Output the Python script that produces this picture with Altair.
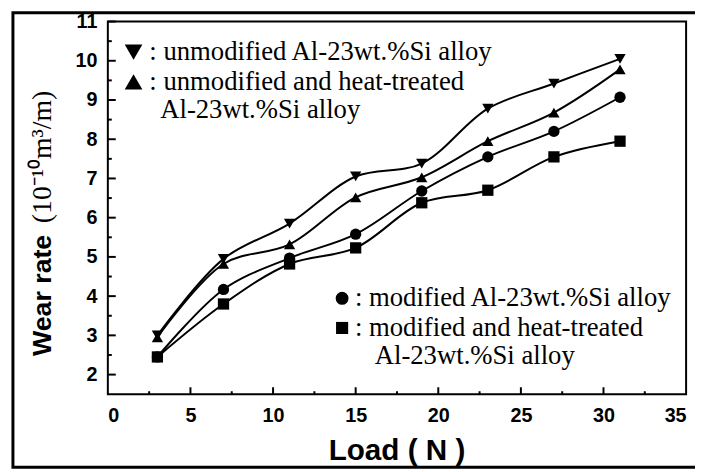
import altair as alt
import pandas as pd

# ---- data ----
loads = [3, 7, 11, 15, 19, 23, 27, 31]
unmod = [3.0, 4.95, 5.85, 7.05, 7.38, 8.78, 9.42, 10.05]
unmod_ht = [2.95, 4.82, 5.32, 6.52, 7.03, 7.95, 8.68, 9.78]
mod = [2.45, 4.17, 4.97, 5.58, 6.68, 7.55, 8.2, 9.07]
mod_ht = [2.45, 3.8, 4.82, 5.23, 6.38, 6.7, 7.55, 7.95]

series_names = ["unmod", "unmod_ht", "mod", "mod_ht"]
series_shapes = ["triangle-down", "triangle-up", "circle", "square"]
series_sizes = [130, 130, 95, 85]

x_major = [5, 10, 15, 20, 25, 30]
x_minor = [2.5, 7.5, 12.5, 17.5, 22.5, 27.5, 32.5]
y_major = [2, 3, 4, 5, 6, 7, 8, 9, 10, 11]
y_minor = [2.5, 3.5, 4.5, 5.5, 6.5, 7.5, 8.5, 9.5, 10.5]
x_labels = [0, 5, 10, 15, 20, 25, 30, 35]

rows = []
for name, vals in zip(series_names, [unmod, unmod_ht, mod, mod_ht]):
    for l, v in zip(loads, vals):
        rows.append({"series": name, "load": l, "wear": v})
df = pd.DataFrame(rows)

W, H = 585, 377
SANS = "Liberation Sans"
SERIF = "Liberation Serif"

xscale = alt.Scale(domain=[0, 35], nice=False, zero=False)
yscale = alt.Scale(domain=[1.5, 11], nice=False, zero=False)

base = alt.Chart(df)

lines = base.mark_line(color="black", strokeWidth=2, interpolate="catmull-rom").encode(
    x=alt.X("load:Q", scale=xscale,
            axis=alt.Axis(values=x_labels, ticks=False, domain=False, grid=False,
                          labelFont=SANS, labelFontWeight="bold", labelFontSize=20,
                          labelColor="black", labelPadding=12,
                          title="Load  (  N )", titleFont=SANS, titleFontWeight="bold",
                          titleFontSize=30, titleColor="black", titleY=66, titleX=292,
                          titleBaseline="alphabetic")),
    y=alt.Y("wear:Q", scale=yscale,
            axis=alt.Axis(values=y_major, ticks=False, domain=False, grid=False,
                          labelFont=SANS, labelFontWeight="bold", labelFontSize=20,
                          labelColor="black", labelPadding=11, title=None)),
    detail="series:N",
)

points = base.mark_point(filled=True, color="black", opacity=1).encode(
    x=alt.X("load:Q", scale=xscale),
    y=alt.Y("wear:Q", scale=yscale),
    shape=alt.Shape("series:N", scale=alt.Scale(domain=series_names, range=series_shapes), legend=None),
    size=alt.Size("series:N", scale=alt.Scale(domain=series_names, range=series_sizes), legend=None),
)

# inward ticks
ymaj = alt.Chart(pd.DataFrame({"v": y_major})).mark_rule(color="black", strokeWidth=2).encode(
    y=alt.Y("v:Q", scale=yscale), x=alt.value(0), x2=alt.value(8))
ymin = alt.Chart(pd.DataFrame({"v": y_minor})).mark_rule(color="black", strokeWidth=2).encode(
    y=alt.Y("v:Q", scale=yscale), x=alt.value(0), x2=alt.value(4))
xmaj = alt.Chart(pd.DataFrame({"v": x_major})).mark_rule(color="black", strokeWidth=2).encode(
    x=alt.X("v:Q", scale=xscale), y=alt.value(H), y2=alt.value(H - 7))
xmin = alt.Chart(pd.DataFrame({"v": x_minor})).mark_rule(color="black", strokeWidth=2).encode(
    x=alt.X("v:Q", scale=xscale), y=alt.value(H), y2=alt.value(H - 3))

one = pd.DataFrame({"a": [0]})

frame = alt.Chart(one).mark_rect(fillOpacity=0, stroke="black", strokeWidth=3).encode(
    x=alt.value(-96), x2=alt.value(600), y=alt.value(-9), y2=alt.value(451))


def txt(s, x, y, font=SERIF, size=27, weight="normal", angle=0, align="left"):
    return alt.Chart(one).mark_text(text=s, font=font, fontSize=size, fontWeight=weight,
                                    angle=angle, align=align, baseline="middle",
                                    color="black").encode(x=alt.value(x), y=alt.value(y))


def sym(shape, x, y, size):
    return alt.Chart(one).mark_point(shape=shape, filled=True, color="black", opacity=1,
                                     size=size).encode(x=alt.value(x), y=alt.value(y))


annots = [
    sym("triangle-down", 26, 31, 320),
    txt(": unmodified Al-23wt.%Si alloy", 42, 31),
    sym("triangle-up", 26, 61, 320),
    txt(": unmodified and heat-treated", 42, 61),
    txt("Al-23wt.%Si alloy", 53, 90),
    sym("circle", 237, 280, 170),
    txt(":  modified Al-23wt.%Si alloy", 250, 280),
    sym("square", 237, 310, 150),
    txt(":  modified and heat-treated", 250, 310),
    txt("Al-23wt.%Si alloy", 270, 338),
    txt("Wear rate", -65, 277, font=SANS, size=27, weight="bold", angle=270, align="center"),
    txt("(10⁻¹⁰m³/m)", -66, 137, font=SERIF, size=28, angle=270, align="center"),
]

chart = alt.layer(frame, ymaj, ymin, xmaj, xmin, lines, points, *annots).properties(
    width=W, height=H,
    autosize=alt.AutoSizeParams(type="none"),
    padding={"left": 101, "top": 11, "right": 9, "bottom": 76},
).configure_view(stroke="black", strokeWidth=2)

chart.save("out.html", embed_options={"renderer": "svg", "actions": False})
